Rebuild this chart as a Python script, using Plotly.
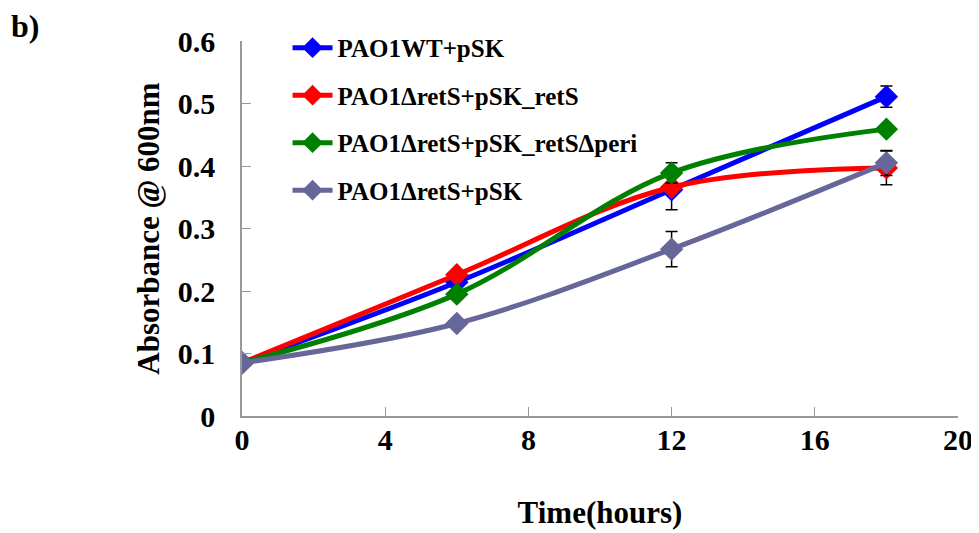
import plotly.graph_objects as go

time_h = [0, 6, 12, 18]
series_names = ["PAO1WT+pSK", "PAO1ΔretS+pSK_retS", "PAO1ΔretS+pSK_retSΔperi", "PAO1ΔretS+pSK"]
wt_vals = [0.085, 0.214, 0.362, 0.511]
wt_err = [None, None, 0.032, 0.017]
rets_vals = [0.085, 0.226, 0.366, 0.397]
rets_err = [None, None, None, 0.027]
peri_vals = [0.085, 0.195, 0.389, 0.459]
peri_err = [None, None, 0.016, None]
del_vals = [0.085, 0.148, 0.267, 0.405]
del_err = [None, None, 0.028, 0.02]
colors = ["#0000FF", "#FF0000", "#008000", "#666699"]
x_ticks = [0, 4, 8, 12, 16, 20]
y_ticks = [0, 0.1, 0.2, 0.3, 0.4, 0.5, 0.6]
y_labels = ["0", "0.1", "0.2", "0.3", "0.4", "0.5", "0.6"]

FONT = "Liberation Serif"

def f(size):
    return dict(family=FONT, size=size, color="black", weight="bold")

fig = go.Figure()
for i, (name, vals, err) in enumerate(zip(series_names,
                                          [wt_vals, rets_vals, peri_vals, del_vals],
                                          [wt_err, rets_err, peri_err, del_err])):
    fig.add_trace(go.Scatter(
        x=time_h, y=vals, name=name, legendgroup=f"g{i}",
        mode="lines+markers",
        line=dict(color=colors[i], width=5, shape="spline", smoothing=1),
        marker=dict(symbol="diamond", size=18, color=colors[i]),
        error_y=dict(type="data", array=err, visible=True, color="black",
                     thickness=1.5, width=6),
    ))

# page body has an 8px margin; figure sized/placed to compensate
fig.update_layout(
    width=971, height=525,
    margin=dict(l=234, r=21, t=33, b=117, autoexpand=False),
    paper_bgcolor="white", plot_bgcolor="white",
    font=f(25),
    showlegend=True,
    legend=dict(x=0.0636, y=1.043, xanchor="left", yanchor="top",
                font=f(25),
                bgcolor="rgba(0,0,0,0)", tracegroupgap=12,
                itemwidth=40),
    xaxis=dict(range=[0, 20], tickvals=x_ticks, ticks="inside", ticklen=9,
               tickcolor="#999999", showline=True, linecolor="#999999",
               linewidth=1.5, showgrid=False, zeroline=False, automargin=False,
               tickfont=f(30),
               ticklabelstandoff=-4,
               title=dict(text="Time(hours)", font=f(31), standoff=47)),
    yaxis=dict(range=[0, 0.6], tickvals=y_ticks, ticktext=y_labels,
               ticks="inside", ticklen=9,
               tickcolor="#999999", showline=True, linecolor="#999999",
               linewidth=1.5, showgrid=False, zeroline=False, automargin=False,
               tickfont=f(30),
               ticklabelstandoff=19,
               title=dict(text="Absorbance @ 600nm", font=f(31), standoff=9)),
)

fig.add_annotation(text="b)", xref="paper", yref="paper",
                   x=-234/716 + 1/716, y=1 + 15/375, xanchor="left", yanchor="middle",
                   showarrow=False, font=f(32))

fig.write_html("out.html")
